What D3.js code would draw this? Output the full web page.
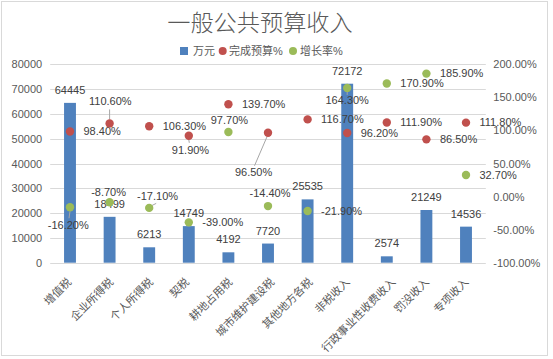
<!DOCTYPE html>
<html><head><meta charset="utf-8">
<script src="https://cdn.jsdelivr.net/npm/d3@7"></script>
<style>
html,body{margin:0;padding:0;background:#fff;}
svg{display:block;font-family:"Liberation Sans","Noto Sans CJK SC",sans-serif;}
</style></head>
<body>
<svg id="chart" width="553" height="359"></svg>
<script>
// ---- data ----
const categories = ["增值税","企业所得税","个人所得税","契税","耕地占用税","城市维护建设税","其他地方各税","非税收入","行政事业性收费收入","罚没收入","专项收入"];
const amounts = [64445,18499,6213,14749,4192,7720,25535,72172,2574,21249,14536];      // 万元
const budgetRate = [98.40,110.60,106.30,91.90,139.70,96.50,116.70,96.20,111.90,86.50,111.80]; // 完成预算%
const growthRate = [-16.20,-8.70,-17.10,-39.00,97.70,-14.40,-21.90,164.30,170.90,185.90,32.70]; // 增长率%
const leftTicks = [0,10000,20000,30000,40000,50000,60000,70000,80000];
const rightTicks = [-100,-50,0,50,100,150,200];
const title = "一般公共预算收入";
const seriesNames = ["万元","完成预算%","增长率%"];

// ---- layout (label placement offsets relative to point; null = right of point) ----
const budgetLabelLayout = [null,[0.7,-22.6,[0,-4,0,-14]],null,[1.7,14.7,[0,4,0.5,7]],null,[-14.4,39.6,[-1,4,-13.5,33]],null,null,null,null,null];
const growthLabelLayout = [[-1.7,18.3,[0,4,-1,11]],[-1,-10.4,null],[8.4,-11.6,[2,-2,7,-4.5]],null,[1,-11.6,null],[2,-12.7,null],null,[0,12.7,[0,4,0,7]],null,null,null];

const colors = {bar:"#4F81BD", red:"#C0504D", green:"#9BBB59", grid:"#D9D9D9", axisText:"#595959", label:"#404040"};
const pct = v => d3.format(".2f")(v).replace("\u2212","-") + "%";

const svg = d3.select("#chart");
svg.append("rect").attr("x",1.5).attr("y",1.5).attr("width",546).attr("height",354)
  .attr("fill","#fff").attr("stroke","#D9D9D9");

const pL = 50.2, pR = 485.8, pT = 64.3, pB = 262.7;
const x = d3.scaleBand().domain(categories).range([pL,pR]).paddingInner(0.7).paddingOuter(0.35);
const yL = d3.scaleLinear().domain([0,80000]).range([pB,pT]);
const yR = d3.scaleLinear().domain([-100,200]).range([pB,pT]);
const cx = c => x(c) + x.bandwidth()/2;

// title
svg.append("text").attr("x",260).attr("y",30.5).attr("text-anchor","middle")
  .attr("font-family","'Noto Sans CJK SC',sans-serif").attr("font-size",23.2).attr("font-weight",300)
  .attr("fill",colors.axisText).text(title);

// legend
const lg = svg.append("g").attr("font-size",11).attr("fill",colors.axisText);
lg.append("rect").attr("x",180).attr("y",47).attr("width",8).attr("height",8).attr("fill",colors.bar);
lg.append("text").attr("x",193).attr("y",55).text(seriesNames[0]);
lg.append("circle").attr("cx",222.7).attr("cy",51).attr("r",4).attr("fill",colors.red);
lg.append("text").attr("x",229).attr("y",55).text(seriesNames[1]);
lg.append("circle").attr("cx",293).attr("cy",51).attr("r",4).attr("fill",colors.green);
lg.append("text").attr("x",300).attr("y",55).text(seriesNames[2]);

// gridlines
svg.append("g").selectAll("line").data(leftTicks).join("line")
  .attr("x1",pL).attr("x2",pR).attr("y1",d=>Math.round(yL(d))+0.5).attr("y2",d=>Math.round(yL(d))+0.5)
  .attr("stroke",colors.grid).attr("stroke-width",1);

// left axis
const gl = svg.append("g").attr("transform",`translate(${pL},0)`)
  .call(d3.axisLeft(yL).tickValues(leftTicks).tickSize(0).tickPadding(8).tickFormat(d3.format("d")));
gl.select(".domain").remove();
gl.selectAll("text").attr("font-size",11).attr("fill",colors.axisText).attr("font-family","'Liberation Sans',sans-serif");

// right axis
const gr = svg.append("g").attr("transform",`translate(${pR},0)`)
  .call(d3.axisRight(yR).tickValues(rightTicks).tickSize(0).tickPadding(7.5).tickFormat(pct));
gr.select(".domain").remove();
gr.selectAll("text").attr("font-size",11).attr("fill",colors.axisText).attr("font-family","'Liberation Sans',sans-serif");

// bottom axis labels
const gb = svg.append("g").attr("transform",`translate(0,${pB})`)
  .call(d3.axisBottom(x).tickSize(0).tickPadding(0));
gb.select(".domain").remove();
gb.selectAll("text").attr("font-size",11).attr("fill",colors.axisText)
  .attr("font-family","'Noto Sans CJK SC',sans-serif")
  .attr("text-anchor","end").attr("dy",0)
  .attr("transform",function(){
    const L = this.getComputedTextLength();
    return `translate(${0.11*L-1.5},20) rotate(-45)`;
  });

// bars
svg.append("g").selectAll("rect").data(amounts).join("rect")
  .attr("x",(d,i)=>x(categories[i])).attr("width",x.bandwidth())
  .attr("y",d=>yL(d)).attr("height",d=>pB-yL(d)).attr("fill",colors.bar);
svg.append("g").selectAll("text").data(amounts).join("text")
  .attr("x",(d,i)=>cx(categories[i])).attr("y",d=>yL(d)-9)
  .attr("text-anchor","middle").attr("font-size",11).attr("fill",colors.label).text(d=>d);

function drawPoints(values, layout, color){
  const g = svg.append("g");
  values.forEach((v,i)=>{
    const px = cx(categories[i]), py = yR(v);
    const lay = layout[i];
    if (lay && lay[2]) {
      const l = lay[2];
      g.append("line").attr("x1",px+l[0]).attr("y1",py+l[1]).attr("x2",px+l[2]).attr("y2",py+l[3])
        .attr("stroke","#A6A6A6").attr("stroke-width",1);
    }
    g.append("circle").attr("cx",px).attr("cy",py).attr("r",4.2).attr("fill",color);
    const t = g.append("text").attr("font-size",11).attr("fill",colors.label).attr("dy","0.35em")
      .text(pct(v));
    if (lay) t.attr("x",px+lay[0]).attr("y",py+lay[1]).attr("text-anchor","middle");
    else t.attr("x",px+13.5).attr("y",py).attr("text-anchor","start");
  });
}
drawPoints(budgetRate, budgetLabelLayout, colors.red);
drawPoints(growthRate, growthLabelLayout, colors.green);
</script>
</body></html>
